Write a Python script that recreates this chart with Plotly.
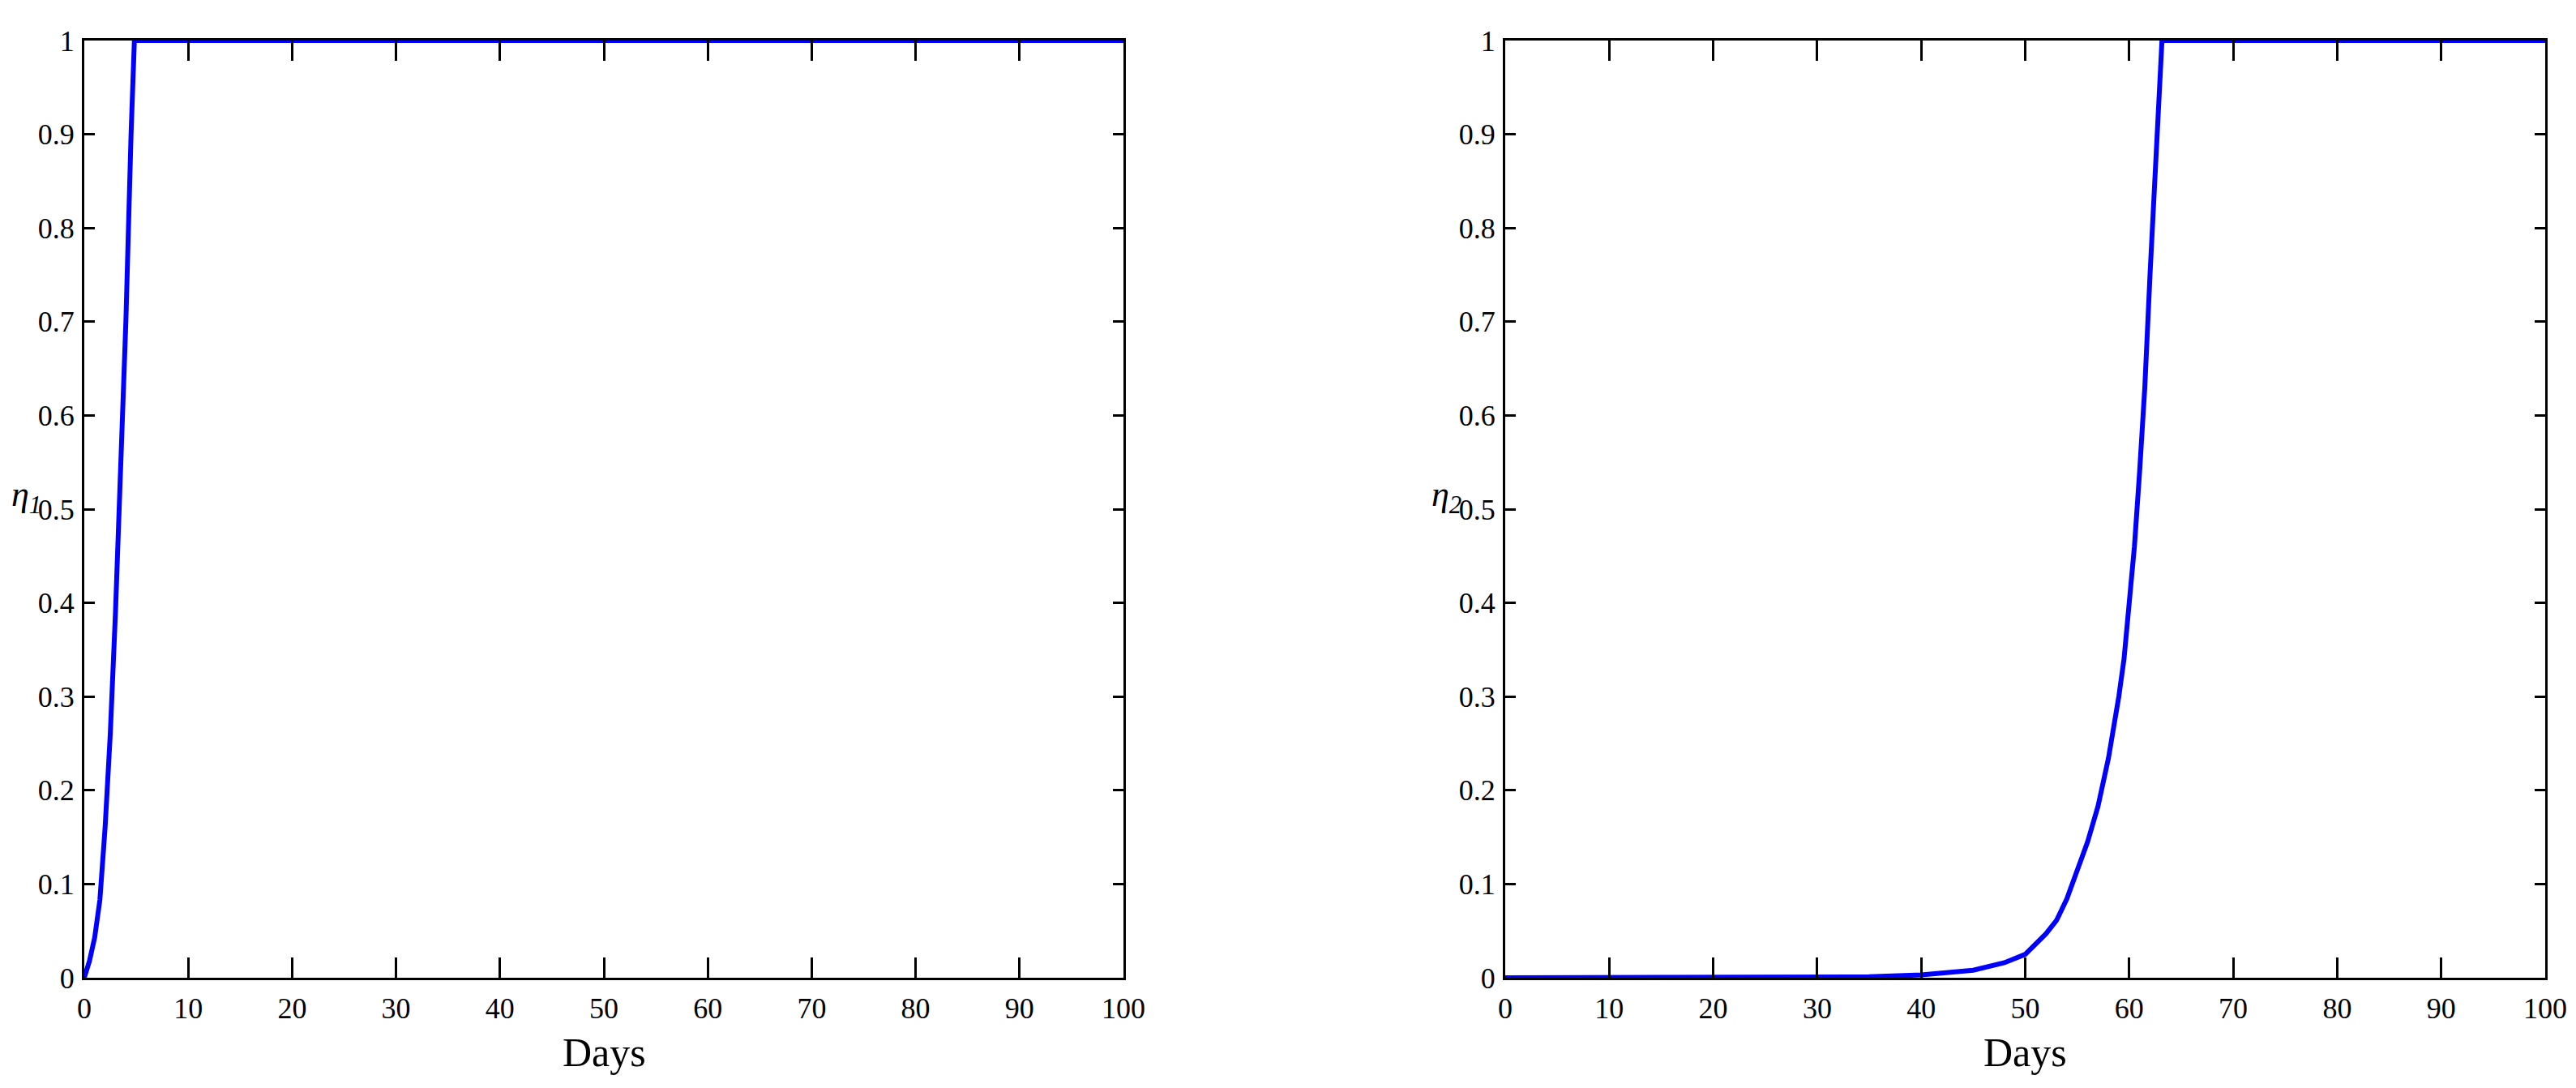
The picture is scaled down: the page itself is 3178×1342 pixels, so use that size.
import plotly.graph_objects as go

# ---- data ----
days_eta1 = [0, 0.5, 1, 1.5, 2, 2.5, 3, 3.5, 4, 4.5, 4.82, 10, 20, 30, 40, 50, 60, 70, 80, 90, 100]
eta1 = [0, 0.018, 0.043, 0.083, 0.16, 0.26, 0.39, 0.53, 0.70, 0.90, 1.0, 1, 1, 1, 1, 1, 1, 1, 1, 1, 1]

days_eta2 = [0, 10, 20, 30, 35, 40, 45, 48, 50, 52, 53, 54, 55, 56, 57, 58, 59, 59.5, 60,
             60.5, 61, 61.5, 62, 62.5, 63, 63.15, 70, 80, 90, 100]
eta2 = [0, 0, 0.0002, 0.0005, 0.001, 0.003, 0.008, 0.016, 0.025, 0.047, 0.061, 0.084, 0.113,
        0.145, 0.183, 0.234, 0.30, 0.34, 0.40, 0.46, 0.54, 0.63, 0.75, 0.85, 0.97, 1.0, 1, 1, 1, 1]

x_ticks = [0, 10, 20, 30, 40, 50, 60, 70, 80, 90, 100]
y_ticks = [0, 0.1, 0.2, 0.3, 0.4, 0.5, 0.6, 0.7, 0.8, 0.9, 1]
y_tick_labels = ["0", "0.1", "0.2", "0.3", "0.4", "0.5", "0.6", "0.7", "0.8", "0.9", "1"]
x_title = "Days"
y_titles = ["η<sub>1</sub>", "η<sub>2</sub>"]

W, H = 3178, 1342
FONT = "Liberation Serif"
BLUE = "#0000ff"

fig = go.Figure()
fig.add_trace(go.Scatter(x=days_eta1, y=eta1, mode="lines",
                         line=dict(color=BLUE, width=6), xaxis="x", yaxis="y",
                         showlegend=False, cliponaxis=False))
fig.add_trace(go.Scatter(x=days_eta2, y=eta2, mode="lines",
                         line=dict(color=BLUE, width=6), xaxis="x2", yaxis="y2",
                         showlegend=False, cliponaxis=False))

ydom = [(H - 1198) / H, (H - 42) / H]
xdom1 = [96 / W, 1378 / W]
xdom2 = [1849 / W, 3132 / W]

xcommon = dict(range=[0, 100], tickvals=x_ticks, ticks="inside", ticklen=25, tickwidth=3,
               tickcolor="black", showline=True, linecolor="black", linewidth=3,
               mirror="ticks", showgrid=False, zeroline=False,
               tickfont=dict(family=FONT, size=36, color="black"), automargin=False,
               ticklabelstandoff=4)
ycommon = dict(range=[0, 1], tickvals=y_ticks, ticktext=y_tick_labels, ticks="inside",
               ticklen=13, tickwidth=3, tickcolor="black", showline=True, linecolor="black",
               linewidth=3, mirror="ticks", showgrid=False, zeroline=False,
               tickfont=dict(family=FONT, size=36, color="black"), automargin=False,
               ticklabelstandoff=2)

fig.update_layout(
    width=W, height=H,
    margin=dict(l=0, r=0, t=0, b=0),
    paper_bgcolor="white", plot_bgcolor="white",
    xaxis=dict(domain=xdom1, anchor="y", **xcommon),
    yaxis=dict(domain=ydom, anchor="x", **ycommon),
    xaxis2=dict(domain=xdom2, anchor="y2", **xcommon),
    yaxis2=dict(domain=ydom, anchor="x2", **ycommon),
)

ann_font = dict(family=FONT, size=50, color="black")
lab_font = dict(family=FONT, size=44, color="black")
# x titles
for xd in (xdom1, xdom2):
    fig.add_annotation(text=x_title, xref="paper", yref="paper",
                       x=(xd[0] + xd[1]) / 2, y=(H - 1290) / H,
                       showarrow=False, font=ann_font, xanchor="center", yanchor="middle")
# y titles
for xpix, t in ((24, y_titles[0]), (1776, y_titles[1])):
    fig.add_annotation(text="<i>" + t + "</i>", xref="paper", yref="paper",
                       x=xpix / W, y=(H - 604) / H,
                       showarrow=False, font=lab_font, xanchor="center", yanchor="middle")

fig.write_html("out.html")
